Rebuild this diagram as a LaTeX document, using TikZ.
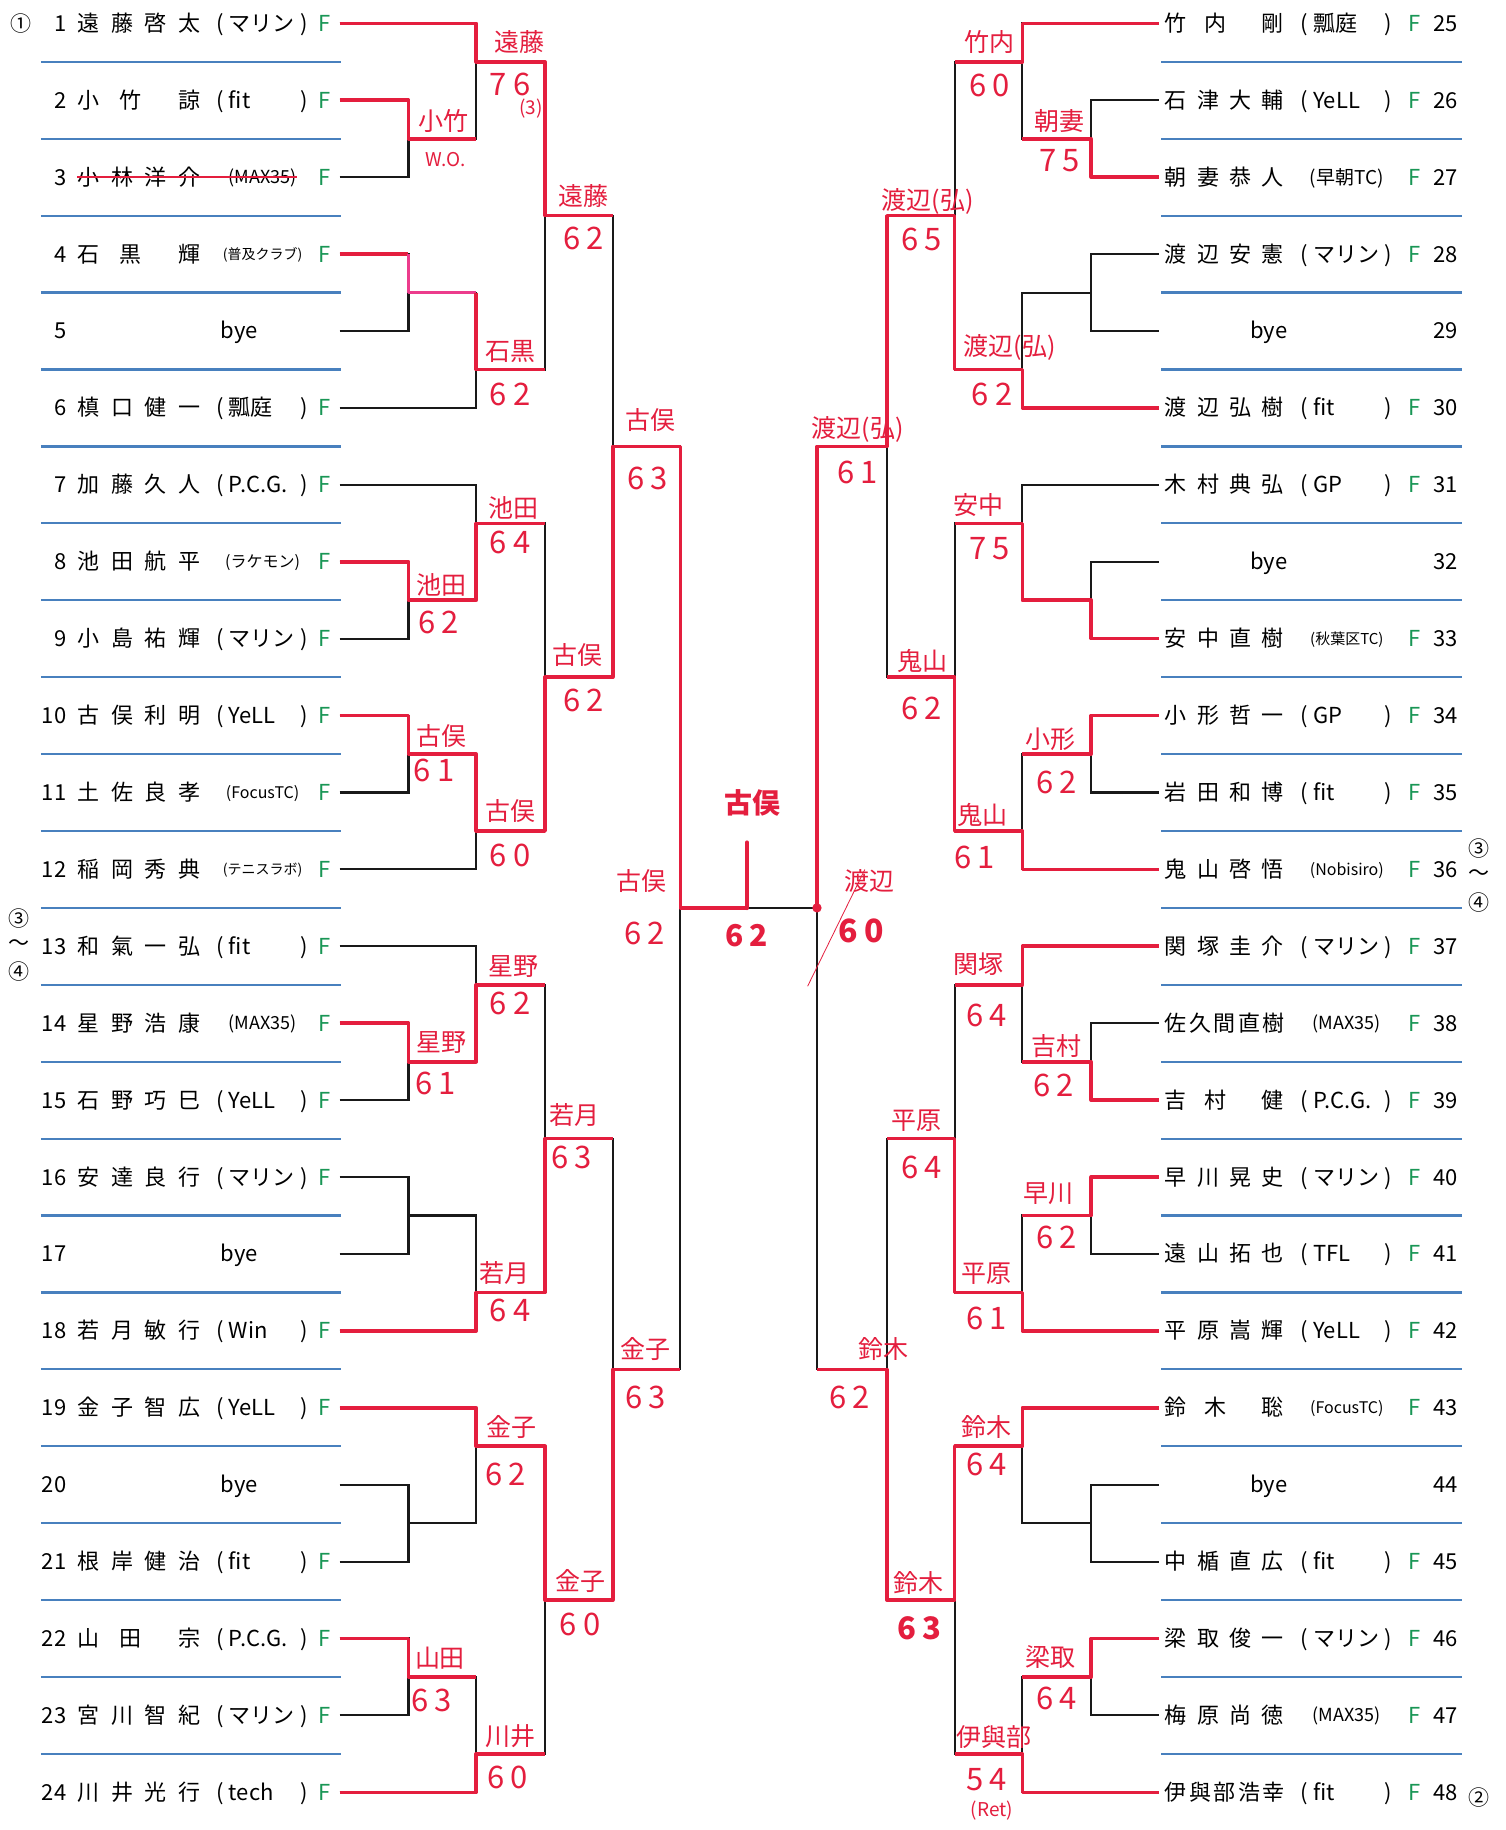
\documentclass[tikz,border=0pt]{standalone}
\usepackage{fontspec}
\setmainfont{Noto Sans CJK JP}
\definecolor{hand}{RGB}{228,30,62}
\definecolor{pinkhand}{RGB}{236,60,140}
\definecolor{rulecol}{RGB}{72,128,190}
\definecolor{fgreen}{RGB}{25,150,85}
\newcommand\rowy[1]{{20+(#1-1)*65.9}}
\newcommand\ruley[1]{{53+(#1-1)*65.9}}
\newcommand\nfourL[4]{#1\hspace{11.9pt}#2\hspace{11.9pt}#3\hspace{11.9pt}#4}
\newcommand\nthreeL[3]{#1\hspace{20pt}#2\hspace{37.6pt}#3}
\newcommand\nfourR[4]{#1\hspace{10.3pt}#2\hspace{10.3pt}#3\hspace{10.3pt}#4}
\newcommand\nthreeR[3]{#1\hspace{17.7pt}#2\hspace{35.2pt}#3}
\newcommand\nfiveR[5]{#1\hspace{2.5pt}#2\hspace{2.5pt}#3\hspace{2.5pt}#4\hspace{2.5pt}#5}
\newcommand\sco[2]{#1\hspace{6pt}#2}
% left player rows
\newcommand\plL[3]{%
 \node[txt,anchor=east] (ln#1) at (57,\rowy{#1}) {#1};
 \node[txt,anchor=west] (lm#1) at (66,\rowy{#1}) {#2};
 \node[txt,anchor=west] (lo#1) at (185,\rowy{#1}) {(};
 \node[txt,anchor=west] (lc#1) at (196,\rowy{#1}) {#3};
 \node[txt,anchor=east] (lx#1) at (264,\rowy{#1}) {)};
 \node[txt,text=fgreen] (lf#1) at (278,\rowy{#1}) {F};
 \coordinate (P#1) at (291,\rowy{#1});}
\newcommand\psL[4]{%
 \node[txt,anchor=east] (ln#1) at (57,\rowy{#1}) {#1};
 \node[txt,anchor=west] (lm#1) at (66,\rowy{#1}) {#2};
 \node[inner sep=0pt,font=\fontsize{#4}{#4}\selectfont,text height=0.78*#4pt,text depth=0.06*#4pt] (lc#1) at (225,\rowy{#1}) {(#3)};
 \node[txt,text=fgreen] (lf#1) at (278,\rowy{#1}) {F};
 \coordinate (P#1) at (291,\rowy{#1});}
\newcommand\pbL[1]{%
 \node[txt,anchor=east] (ln#1) at (57,\rowy{#1}) {#1};
 \node[txt] (lb#1) at (205,\rowy{#1}) {bye};
 \coordinate (P#1) at (291,\rowy{#1});}
% right player rows
\newcommand\plR[3]{%
 \node[txt,anchor=west] (rm#1) at (998,\rowy{#1-24}) {#2};
 \node[txt,anchor=west] (ro#1) at (1114,\rowy{#1-24}) {(};
 \node[txt,anchor=west] (rc#1) at (1125,\rowy{#1-24}) {#3};
 \node[txt,anchor=east] (rx#1) at (1193,\rowy{#1-24}) {)};
 \node[txt,text=fgreen] (rf#1) at (1212,\rowy{#1-24}) {F};
 \node[txt,anchor=west] (rn#1) at (1228,\rowy{#1-24}) {#1};
 \coordinate (P#1) at (993,\rowy{#1-24});}
\newcommand\psR[4]{%
 \node[txt,anchor=west] (rm#1) at (998,\rowy{#1-24}) {#2};
 \node[inner sep=0pt,font=\fontsize{#4}{#4}\selectfont,text height=0.78*#4pt,text depth=0.06*#4pt] (rc#1) at (1154,\rowy{#1-24}) {(#3)};
 \node[txt,text=fgreen] (rf#1) at (1212,\rowy{#1-24}) {F};
 \node[txt,anchor=west] (rn#1) at (1228,\rowy{#1-24}) {#1};
 \coordinate (P#1) at (993,\rowy{#1-24});}
\newcommand\pbR[1]{%
 \node[txt] (rb#1) at (1087,\rowy{#1-24}) {bye};
 \node[txt,anchor=west] (rn#1) at (1228,\rowy{#1-24}) {#1};
 \coordinate (P#1) at (993,\rowy{#1-24});}
% bracket group
\newcommand\grp[6]{%
 \pgfmathtruncatemacro\gpa{#6}\pgfmathtruncatemacro\gpb{#6+1}\pgfmathtruncatemacro\gpc{#6+2}%
 \pgfmathtruncatemacro\gpd{#6+3}\pgfmathtruncatemacro\gpe{#6+4}\pgfmathtruncatemacro\gpf{#6+5}%
 \coordinate (m#1A) at (#2,\ruley{#5+1});
 \coordinate (m#1B) at (#2,\ruley{#5+3});
 \coordinate (m#1C) at (#3,\ruley{#5});
 \coordinate (m#1D) at (#3,\ruley{#5+4});
 \coordinate (m#1E) at (#4,\ruley{#5+2});
 \draw[br] (P\gpb) -| (m#1A) (P\gpc) -| (m#1A)
           (P\gpd) -| (m#1B) (P\gpe) -| (m#1B)
           (P\gpa) -| (m#1C) (m#1A) -| (m#1C)
           (m#1B) -| (m#1D) (P\gpf) -| (m#1D)
           (m#1C) -| (m#1E) (m#1D) -| (m#1E);}
\newcounter{labc}
\newcommand\hn[3]{\stepcounter{labc}\node[hname] (lab\thelabc) at (#1,#2) {#3};}
\newcommand\hs[3]{\stepcounter{labc}\node[hscore] (lab\thelabc) at (#1,#2) {#3};}
\newcommand\hx[3]{\stepcounter{labc}\node[hsmall] (lab\thelabc) at (#1,#2) {#3};}
\begin{document}
\begin{tikzpicture}[x=1.1674pt,y=-1.1674pt,
  txt/.style={inner sep=0pt,font=\fontsize{22}{24}\selectfont,text height=18pt,text depth=2pt},
  br/.style={draw=black!90,line width=2.1pt},
  rulel/.style={draw=rulecol,line width=2.2pt},
  win/.style={draw=hand,line width=3.6pt,line join=round},
  hname/.style={inner sep=0pt,text=hand,font=\fontsize{25}{26}\selectfont},
  hscore/.style={inner sep=0pt,text=hand,font=\fontsize{31}{32}\selectfont},
  hsmall/.style={inner sep=0pt,text=hand,font=\fontsize{19}{20}\selectfont},
  circ/.style={inner sep=0pt,font=\fontsize{21}{22}\selectfont}]
\fill[white] (0,0) rectangle (1290,1568);
\useasboundingbox (0,0) rectangle (1290,1568);
% rules
\foreach \k in {1,...,24} {
  \draw[rulel] (35,\ruley{\k}) -- (292,\ruley{\k});
  \draw[rulel] (995,\ruley{\k}) -- (1253,\ruley{\k});
}
% left players
\plL{1}{\nfourL{遠}{藤}{啓}{太}}{マリン}
\plL{2}{\nthreeL{小}{竹}{諒}}{fit}
\psL{3}{\nfourL{小}{林}{洋}{介}}{MAX35}{18}
\psL{4}{\nthreeL{石}{黒}{輝}}{普及クラブ}{14}
\pbL{5}
\plL{6}{\nfourL{槙}{口}{健}{一}}{瓢庭}
\plL{7}{\nfourL{加}{藤}{久}{人}}{P.C.G.}
\psL{8}{\nfourL{池}{田}{航}{平}}{ラケモン}{16}
\plL{9}{\nfourL{小}{島}{祐}{輝}}{マリン}
\plL{10}{\nfourL{古}{俣}{利}{明}}{YeLL}
\psL{11}{\nfourL{土}{佐}{良}{孝}}{FocusTC}{16}
\psL{12}{\nfourL{稲}{岡}{秀}{典}}{テニスラボ}{14}
\plL{13}{\nfourL{和}{氣}{一}{弘}}{fit}
\psL{14}{\nfourL{星}{野}{浩}{康}}{MAX35}{18}
\plL{15}{\nfourL{石}{野}{巧}{巳}}{YeLL}
\plL{16}{\nfourL{安}{達}{良}{行}}{マリン}
\pbL{17}
\plL{18}{\nfourL{若}{月}{敏}{行}}{Win}
\plL{19}{\nfourL{金}{子}{智}{広}}{YeLL}
\pbL{20}
\plL{21}{\nfourL{根}{岸}{健}{治}}{fit}
\plL{22}{\nthreeL{山}{田}{宗}}{P.C.G.}
\plL{23}{\nfourL{宮}{川}{智}{紀}}{マリン}
\plL{24}{\nfourL{川}{井}{光}{行}}{tech}
% right players
\plR{25}{\nthreeR{竹}{内}{剛}}{瓢庭}
\plR{26}{\nfourR{石}{津}{大}{輔}}{YeLL}
\psR{27}{\nfourR{朝}{妻}{恭}{人}}{早朝TC}{19}
\plR{28}{\nfourR{渡}{辺}{安}{憲}}{マリン}
\pbR{29}
\plR{30}{\nfourR{渡}{辺}{弘}{樹}}{fit}
\plR{31}{\nfourR{木}{村}{典}{弘}}{GP}
\pbR{32}
\psR{33}{\nfourR{安}{中}{直}{樹}}{秋葉区TC}{15}
\plR{34}{\nfourR{小}{形}{哲}{一}}{GP}
\plR{35}{\nfourR{岩}{田}{和}{博}}{fit}
\psR{36}{\nfourR{鬼}{山}{啓}{悟}}{Nobisiro}{16}
\plR{37}{\nfourR{関}{塚}{圭}{介}}{マリン}
\psR{38}{\nfiveR{佐}{久}{間}{直}{樹}}{MAX35}{18}
\plR{39}{\nthreeR{吉}{村}{健}}{P.C.G.}
\plR{40}{\nfourR{早}{川}{晃}{史}}{マリン}
\plR{41}{\nfourR{遠}{山}{拓}{也}}{TFL}
\plR{42}{\nfourR{平}{原}{嵩}{輝}}{YeLL}
\psR{43}{\nthreeR{鈴}{木}{聡}}{FocusTC}{16}
\pbR{44}
\plR{45}{\nfourR{中}{楯}{直}{広}}{fit}
\plR{46}{\nfourR{梁}{取}{俊}{一}}{マリン}
\psR{47}{\nfourR{梅}{原}{尚}{徳}}{MAX35}{18}
\plR{48}{\nfiveR{伊}{與}{部}{浩}{幸}}{fit}
% circled marks
\node[circ] (c1) at (18,20) {①};
\node[circ] (c3a) at (16,787) {③};
\node[circ] (t3a) at (16,810) {～};
\node[circ] (c4a) at (16,832) {④};
\node[circ] (c3b) at (1267,727) {③};
\node[circ] (t3b) at (1267,750) {～};
\node[circ] (c4b) at (1267,773) {④};
\node[circ] (c2) at (1267,1540) {②};
% bracket
\grp{1}{350}{408}{467}{1}{1}
\grp{2}{350}{408}{467}{7}{7}
\grp{3}{350}{408}{467}{13}{13}
\grp{4}{350}{408}{467}{19}{19}
\grp{5}{935}{876}{818}{1}{25}
\grp{6}{935}{876}{818}{7}{31}
\grp{7}{935}{876}{818}{13}{37}
\grp{8}{935}{876}{818}{19}{43}
\coordinate (h1) at (525,\ruley{6});
\coordinate (h2) at (525,\ruley{18});
\coordinate (h3) at (760,\ruley{6});
\coordinate (h4) at (760,\ruley{18});
\coordinate (sL) at (583,\ruley{12});
\coordinate (sR) at (700,\ruley{12});
\coordinate (fin) at (640,\ruley{12});
\coordinate (fintop) at (640,722);
\draw[br] (m1E) -| (h1) (m2E) -| (h1) (m3E) -| (h2) (m4E) -| (h2)
          (m5E) -| (h3) (m6E) -| (h3) (m7E) -| (h4) (m8E) -| (h4)
          (h1) -| (sL) (h2) -| (sL) (h3) -| (sR) (h4) -| (sR)
          (sL) -- (sR);
% winners (red)
\draw[win] (P1) -| (m1C) -| (m1E) -- (m1E -| h1);
\draw[win] (P2) -| (m1A) -- (m1A -| m1C);
\draw[win] (P4) -- (P4 -| m1B);
\draw[win,draw=pinkhand] (P4 -| m1B) -- (m1B) -- (m1B -| m1D);
\draw[win] (m1B -| m1D) -- (m1D) -- (m1D -| m1E);
\draw[win,line width=1.6pt] (lm3.west) -- (lc3.east);
\draw[win] (P8) -| (m2A) -| (m2C) -- (m2C -| m2E);
\draw[win] (P10) -| (m2B) -| (m2D) -| (m2E) -| (h1) -| (sL) -- (fin);
\draw[win,line width=4.5pt,line cap=round] (fin) -- (fintop);
\draw[win] (P14) -| (m3A) -| (m3C) -- (m3C -| m3E);
\draw[win] (P18) -| (m3D) -| (m3E) -- (m3E -| h2);
\draw[win] (P19) -| (m4C) -| (m4E) -| (h2) -- (h2 -| sL);
\draw[win] (P22) -| (m4B) -- (m4B -| m4D);
\draw[win] (P24) -| (m4D) -- (m4D -| m4E);
\draw[win] (P25) -| (m5C) -- (m5C -| m5E);
\draw[win] (P27) -| (m5A) -- (m5A -| m5C);
\draw[win] (P30) -| (m5D) -| (m5E) -| (h3) -| (sR);
\fill[hand] (sR) circle (4);
\draw[win] (P33) -| (m6A) -| (m6C) -- (m6C -| m6E);
\draw[win] (P34) -| (m6B) -- (m6B -| m6D);
\draw[win] (P36) -| (m6D) -| (m6E) -- (m6E -| h3);
\draw[win] (P37) -| (m7C) -- (m7C -| m7E);
\draw[win] (P39) -| (m7A) -- (m7A -| m7C);
\draw[win] (P40) -| (m7B) -- (m7B -| m7D);
\draw[win] (P42) -| (m7D) -| (m7E) -- (m7E -| h4);
\draw[win] (P43) -| (m8C) -| (m8E) -| (h4) -- (h4 -| sR);
\draw[win] (P46) -| (m8B) -- (m8B -| m8D);
\draw[win] (P48) -| (m8D) -- (m8D -| m8E);
% handwritten labels, left
\hn{445}{36}{遠藤} \hs{437}{72}{\sco76} \hx{455}{93}{(3)}
\hn{380}{104}{小竹} \hx{382}{137}{W.O.}
\hn{500}{168}{遠藤} \hs{500}{204}{\sco62}
\hn{437}{301}{石黒} \hs{437}{338}{\sco62}
\hn{440}{435}{池田} \hs{437}{465}{\sco64}
\hn{378}{501}{池田} \hs{376}{533}{\sco62}
\hn{495}{561}{古俣} \hs{500}{600}{\sco62}
\hn{378}{631}{古俣} \hs{372}{660}{\sco61}
\hn{437}{695}{古俣} \hs{437}{733}{\sco60}
\hn{557}{360}{古俣} \hs{555}{410}{\sco63}
\hn{550}{755}{古俣} \hs{552}{800}{\sco62}
\stepcounter{labc}\node[hname,font=\fontsize{28}{30}\selectfont\bfseries] (lab\thelabc) at (645,688) {古俣};
\stepcounter{labc}\node[hscore,font=\fontsize{30}{30}\selectfont\bfseries] (lab\thelabc) at (640,802) {\sco62};
\hn{745}{755}{渡辺}
\stepcounter{labc}\node[hscore,font=\fontsize{32}{32}\selectfont\bfseries] (lab\thelabc) at (738,798) {\sco60};
\draw[hand,line width=0.8pt] (692,845) -- (741,745);
\hn{440}{828}{星野} \hs{437}{860}{\sco62}
\hn{378}{893}{星野} \hs{373}{928}{\sco61}
\hn{492}{955}{若月} \hs{490}{992}{\sco63}
\hn{432}{1091}{若月} \hs{437}{1123}{\sco64}
\hn{553}{1156}{金子} \hs{553}{1197}{\sco63}
\hn{438}{1223}{金子} \hs{433}{1263}{\sco62}
\hn{497}{1355}{金子} \hs{497}{1392}{\sco60}
\hn{377}{1421}{山田} \hs{370}{1457}{\sco63}
\hn{437}{1488}{川井} \hs{435}{1523}{\sco60}
% handwritten labels, right
\hn{848}{36}{竹内} \hs{848}{73}{\sco60}
\hn{908}{104}{朝妻} \hs{908}{138}{\sco75}
\hn{795}{173}{渡辺(弘)} \hs{790}{205}{\sco65}
\hn{865}{298}{渡辺(弘)} \hs{850}{338}{\sco62}
\hn{735}{368}{渡辺(弘)} \hs{735}{405}{\sco61}
\hn{838}{433}{安中} \hs{848}{470}{\sco75}
\hn{790}{566}{鬼山} \hs{790}{607}{\sco62}
\hn{900}{633}{小形} \hs{905}{670}{\sco62}
\hn{842}{698}{鬼山} \hs{835}{735}{\sco61}
\hn{838}{826}{関塚} \hs{845}{870}{\sco64}
\hn{905}{896}{吉村} \hs{903}{930}{\sco62}
\hn{785}{960}{平原} \hs{790}{1000}{\sco64}
\hn{898}{1023}{早川} \hs{905}{1060}{\sco62}
\hn{845}{1091}{平原} \hs{845}{1130}{\sco61}
\hn{757}{1156}{鈴木} \hs{728}{1197}{\sco62}
\hn{845}{1223}{鈴木} \hs{845}{1255}{\sco64}
\hn{787}{1356}{鈴木}
\stepcounter{labc}\node[hscore,font=\fontsize{31}{32}\selectfont\bfseries] (lab\thelabc) at (788,1395) {\sco63};
\hn{900}{1420}{梁取} \hs{905}{1455}{\sco64}
\hn{852}{1488}{伊與部} \hs{845}{1525}{\sco54} \hx{850}{1551}{(Ret)}
\end{tikzpicture}
\end{document}
